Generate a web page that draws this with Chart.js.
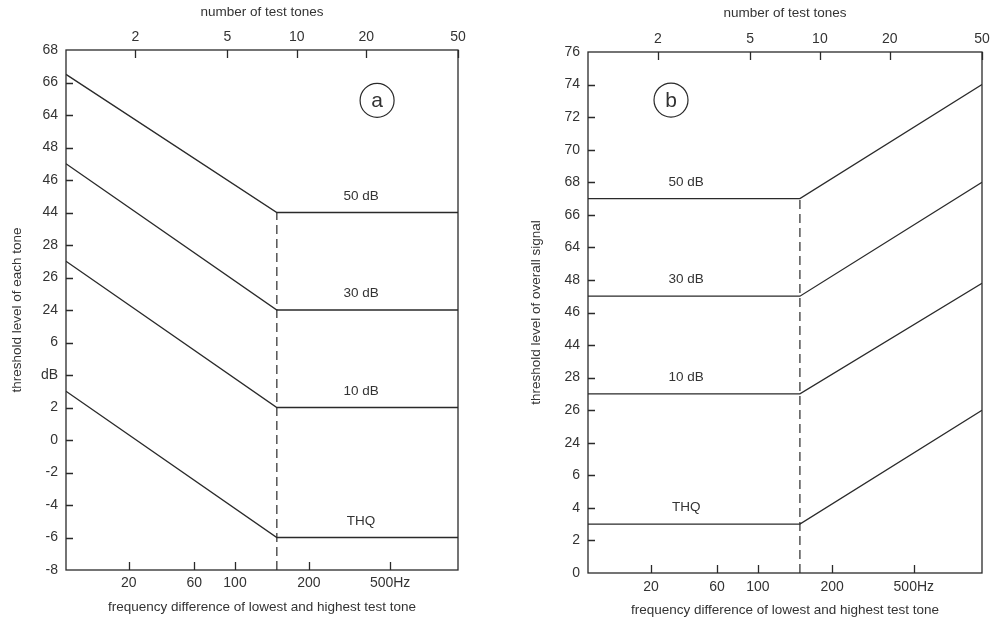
<!DOCTYPE html>
<html><head><meta charset="utf-8">
<script src="https://cdn.jsdelivr.net/npm/chart.js@4"></script>
<style>
html,body{margin:0;padding:0;background:#fff;}
#wrap{position:relative;width:997px;height:621px;overflow:hidden;background:#fff;}
canvas{position:absolute;top:0;}
#ca{left:0;} #cb{left:500px;}
</style></head><body>
<div id="wrap"><canvas id="ca" width="490" height="621"></canvas><canvas id="cb" width="497" height="621"></canvas></div>
<script>
// ---- data ----
// number of test tones (top axis)
const toneTicks = [2, 5, 10, 20, 50];
// frequency difference of lowest and highest tone (bottom axis) and the tone count it lines up with
const freqLabels = ['20', '60', '100', '200', '500Hz'];
const freqTickTones = [1.87, 3.6, 5.4, 11.3, 25.4];
// tone counts at the vertices of every curve (start, break, end)
const curveTones = [1, 8.2, 50];
const curveNames = ['50 dB', '30 dB', '10 dB', 'THQ'];

// panel a: threshold level of each tone (broken dB axis)
const aYLabels = ['-8','-6','-4','-2','0','2','dB','6','24','26','28','44','46','48','64','66','68'];
const a50  = [66.5, 44, 44];
const a30  = [47, 24, 24];
const a10  = [27, 2, 2];
const aTHQ = [3, -6, -6];

// panel b: threshold level of overall signal (broken dB axis)
const bYLabels = ['0','2','4','6','24','26','28','44','46','48','64','66','68','70','72','74','76'];
const b50  = [67, 67, 74];
const b30  = [47, 47, 68];
const b10  = [27, 27, 47.8];
const bTHQ = [3, 3, 26];

// broken axis: each band of dB values is shifted onto one continuous scale
function toAxis(v){ if (v < 14) return v; if (v < 34) return v - 16; if (v < 54) return v - 30; return v - 44; }

const INK = '#2a2a2a';
const TXT = '#333';
const FONT = 'Liberation Sans, Arial, Helvetica, sans-serif';

function makePanel(canvasId, o){
  const lineDs = (vals) => ({
    data: curveTones.map((t,i)=>({x:t, y:toAxis(vals[i])})),
    borderColor: INK, borderWidth: 1.3, pointRadius: 0, tension: 0, fill: false,
    xAxisID: 'x', yAxisID: 'y'
  });
  const datasets = o.series.map(lineDs);
  // dashed vertical line at the break, from the bottom to the top curve
  datasets.push({
    data: [{x: curveTones[1], y: o.yMin}, {x: curveTones[1], y: toAxis(o.series[0][1])}],
    borderColor: INK, borderWidth: 1.2, borderDash: [9, 5], pointRadius: 0, fill: false,
    xAxisID: 'x', yAxisID: 'y'
  });

  const deco = {
    id: 'deco',
    afterDraw(chart){
      const ctx = chart.ctx, ca = chart.chartArea;
      const xs = chart.scales.x, xt = chart.scales.xTop, ys = chart.scales.y;
      ctx.save();
      ctx.strokeStyle = INK; ctx.lineWidth = 1.3;
      ctx.strokeRect(ca.left, ca.top, ca.right - ca.left, ca.bottom - ca.top);
      ctx.lineWidth = 1.3;
      ctx.beginPath();
      ys.ticks.forEach((t,i)=>{
        if (i === 0 || i === ys.ticks.length-1) return;
        const p = Math.round(ys.getPixelForValue(t.value)) + 0.5;
        ctx.moveTo(ca.left, p); ctx.lineTo(ca.left + 7, p);
      });
      xt.ticks.forEach(t=>{
        const p = Math.round(xt.getPixelForValue(t.value)) + 0.5;
        ctx.moveTo(p, ca.top); ctx.lineTo(p, ca.top + 8);
      });
      xs.ticks.forEach(t=>{
        const p = Math.round(xs.getPixelForValue(t.value)) + 0.5;
        ctx.moveTo(p, ca.bottom); ctx.lineTo(p, ca.bottom - 8);
      });
      ctx.stroke();
      // curve labels
      ctx.fillStyle = TXT;
      ctx.font = '13.5px ' + FONT;
      ctx.textAlign = 'center'; ctx.textBaseline = 'middle';
      o.series.forEach((vals, i)=>{
        const flat = vals[o.flatIndex];
        const px = xs.getPixelForValue(o.labelTone);
        const py = ys.getPixelForValue(toAxis(flat)) - 16.5;
        ctx.fillText(curveNames[i], px, py);
      });
      // panel letter
      const cx = xs.getPixelForValue(o.letterTone), cy = ys.getPixelForValue(o.letterY);
      ctx.beginPath(); ctx.lineWidth = 1.2;
      ctx.arc(cx, cy, 17, 0, Math.PI*2); ctx.stroke();
      ctx.font = '21px ' + FONT;
      ctx.fillText(o.letter, cx, cy + 1);
      ctx.restore();
    }
  };

  const tickFont = {family: FONT, size: 14};
  const titleFont = {family: FONT, size: 13.5};
  return new Chart(document.getElementById(canvasId), {
    type: 'line',
    data: {datasets},
    options: {
      responsive: false, animation: false, devicePixelRatio: 1,
      layout: {padding: {left: 0, right: o.padRight, top: 0, bottom: 0}},
      plugins: {legend: {display: false}, tooltip: {enabled: false}},
      scales: {
        x: {
          type: 'logarithmic', position: 'bottom', min: 1, max: 50,
          grid: {display: false, drawTicks: false}, border: {display: false},
          afterBuildTicks: s => { s.ticks = freqTickTones.map(v=>({value: v})); },
          afterFit: s => { s.height = o.bottomH; },
          ticks: {color: TXT, font: tickFont, padding: o.bottomTickPad, maxRotation: 0, autoSkip: false,
                  callback: (v, i) => freqLabels[i]},
          title: {display: true, text: 'frequency difference of lowest and highest test tone', color: TXT,
                  font: titleFont, padding: {top: 0, bottom: o.bottomTitlePad}}
        },
        xTop: {
          type: 'logarithmic', position: 'top', min: 1, max: 50,
          grid: {display: false, drawTicks: false}, border: {display: false},
          afterBuildTicks: s => { s.ticks = toneTicks.map(v=>({value: v})); },
          afterFit: s => { s.height = o.topH; },
          ticks: {color: TXT, font: tickFont, padding: 4, maxRotation: 0, autoSkip: false,
                  callback: v => String(v)},
          title: {display: true, text: 'number of test tones', color: TXT, font: titleFont,
                  padding: {top: o.topTitlePad, bottom: 0}}
        },
        y: {
          type: 'linear', position: 'left', min: o.yMin, max: o.yMax,
          grid: {display: false, drawTicks: false}, border: {display: false},
          afterFit: s => { s.width = o.yW; },
          ticks: {stepSize: 2, color: TXT, font: tickFont, padding: 8, autoSkip: false,
                  callback: (v, i) => o.yLabels[i]},
          title: {display: true, text: o.yTitle, color: TXT, font: titleFont,
                  padding: {top: o.yTitlePad, bottom: 0}}
        }
      }
    },
    plugins: [deco]
  });
}

makePanel('ca', {
  series: [a50, a30, a10, aTHQ], flatIndex: 2, labelTone: 19,
  yMin: -8, yMax: 24, yLabels: aYLabels, yTitle: 'threshold level of each tone',
  letter: 'a', letterTone: 22.3, letterY: 20.9,
  yW: 66, topH: 50, bottomH: 51, padRight: 32,
  bottomTickPad: 5, bottomTitlePad: 6, topTitlePad: 4, yTitlePad: 9
});
makePanel('cb', {
  series: [b50, b30, b10, bTHQ], flatIndex: 0, labelTone: 2.65,
  yMin: 0, yMax: 32, yLabels: bYLabels, yTitle: 'threshold level of overall signal',
  letter: 'b', letterTone: 2.28, letterY: 29.05,
  yW: 88, topH: 52, bottomH: 48, padRight: 15,
  bottomTickPad: 6, bottomTitlePad: 3, topTitlePad: 5, yTitlePad: 28
});
</script>
</body></html>
